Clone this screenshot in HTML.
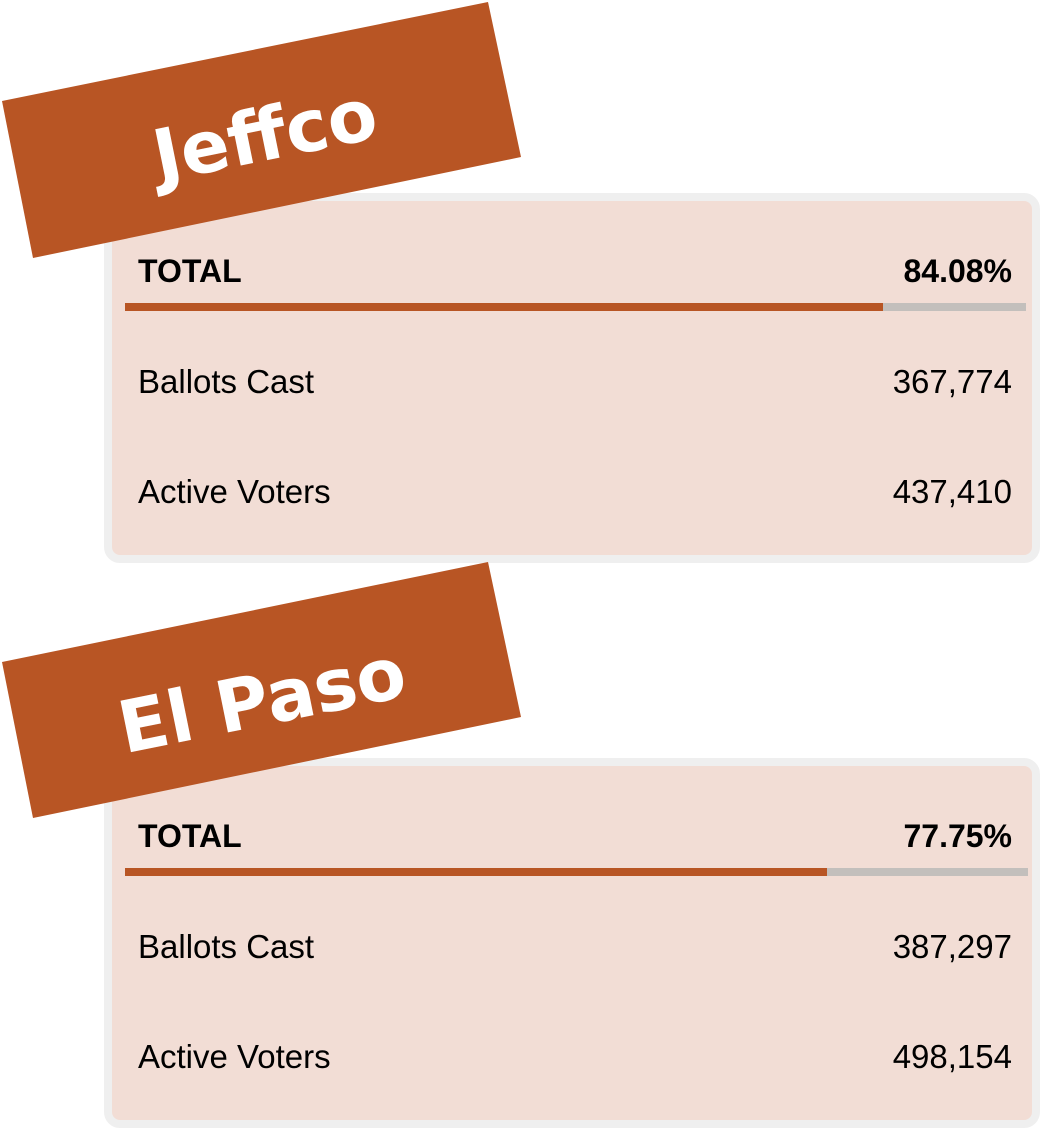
<!DOCTYPE html>
<html><head><meta charset="utf-8"><style>
body{margin:0;width:1050px;height:1130px;background:#fff;position:relative;overflow:hidden;font-family:"Liberation Sans",sans-serif}
.card{position:absolute;left:104px;width:936px;border:8px solid #efefef;border-radius:16px;background:#f2ddd5;box-sizing:border-box}
.t{position:absolute;font-size:33px;color:#000}
</style></head><body>
<script>
const counties=["Jeffco","El Paso"];
const pcts=[84.08,77.75];
const ballots=["367,774","387,297"];
const voters=["437,410","498,154"];
const offs=[0,560];
const barLeft=[125,125], barW=[901,903];
for(let i=0;i<counties.length;i++){
  const o=offs[i];
  const c=document.createElement('div');
  
  
  c.className='card';c.style.top=(193+o+(i?5:0))+'px';c.style.height='370px';
  document.body.appendChild(c);
  const y0=193+o+(i?5:0);
  const add=(txt,css,name)=>{const d=document.createElement('div');d.className='t';d.textContent=txt;d.style.cssText+=css;
    
    
    document.body.appendChild(d);};
  add('TOTAL',`left:138px;top:${y0+60}px;font-weight:bold;font-size:32px`,'total-label');
  add(pcts[i].toFixed(2)+'%',`right:38px;top:${y0+60}px;font-weight:bold;font-size:32px`,'total-percent');
  add('Ballots Cast',`left:138px;top:${y0+170}px`,'ballots-label');
  add(ballots[i],`right:38px;top:${y0+170}px`,'ballots-value');
  add('Active Voters',`left:138px;top:${y0+280}px`,'voters-label');
  add(voters[i],`right:38px;top:${y0+280}px`,'voters-value');
  const bg=document.createElement('div');
  
  
  bg.style.cssText=`position:absolute;left:${barLeft[i]}px;top:${y0+110}px;width:${barW[i]}px;height:8px;background:#c3bfbc`;
  document.body.appendChild(bg);
  const fg=document.createElement('div');
  
  
  fg.style.cssText=`position:absolute;left:${barLeft[i]}px;top:${y0+110}px;width:${barW[i]*pcts[i]/100}px;height:8px;background:#b85524`;
  document.body.appendChild(fg);
}
</script>
<svg width="1050" height="1130" style="position:absolute;left:0;top:0">
<g>
<polygon points="2,101 488,2 521,157 33,258" fill="#b85524"/>
<text x="265" y="160" transform="rotate(-11.5 265 135)" text-anchor="middle" font-family="DejaVu Sans, sans-serif" font-weight="bold" font-size="72" fill="#fff">Jeffco</text>
</g>
<g>
<polygon points="2,662 488,562 521,717 33,818" fill="#b85524"/>
<text x="262" y="725" transform="rotate(-11.5 262 700)" text-anchor="middle" font-family="DejaVu Sans, sans-serif" font-weight="bold" font-size="72" fill="#fff">El Paso</text>
</g>
</svg>
</body></html>
